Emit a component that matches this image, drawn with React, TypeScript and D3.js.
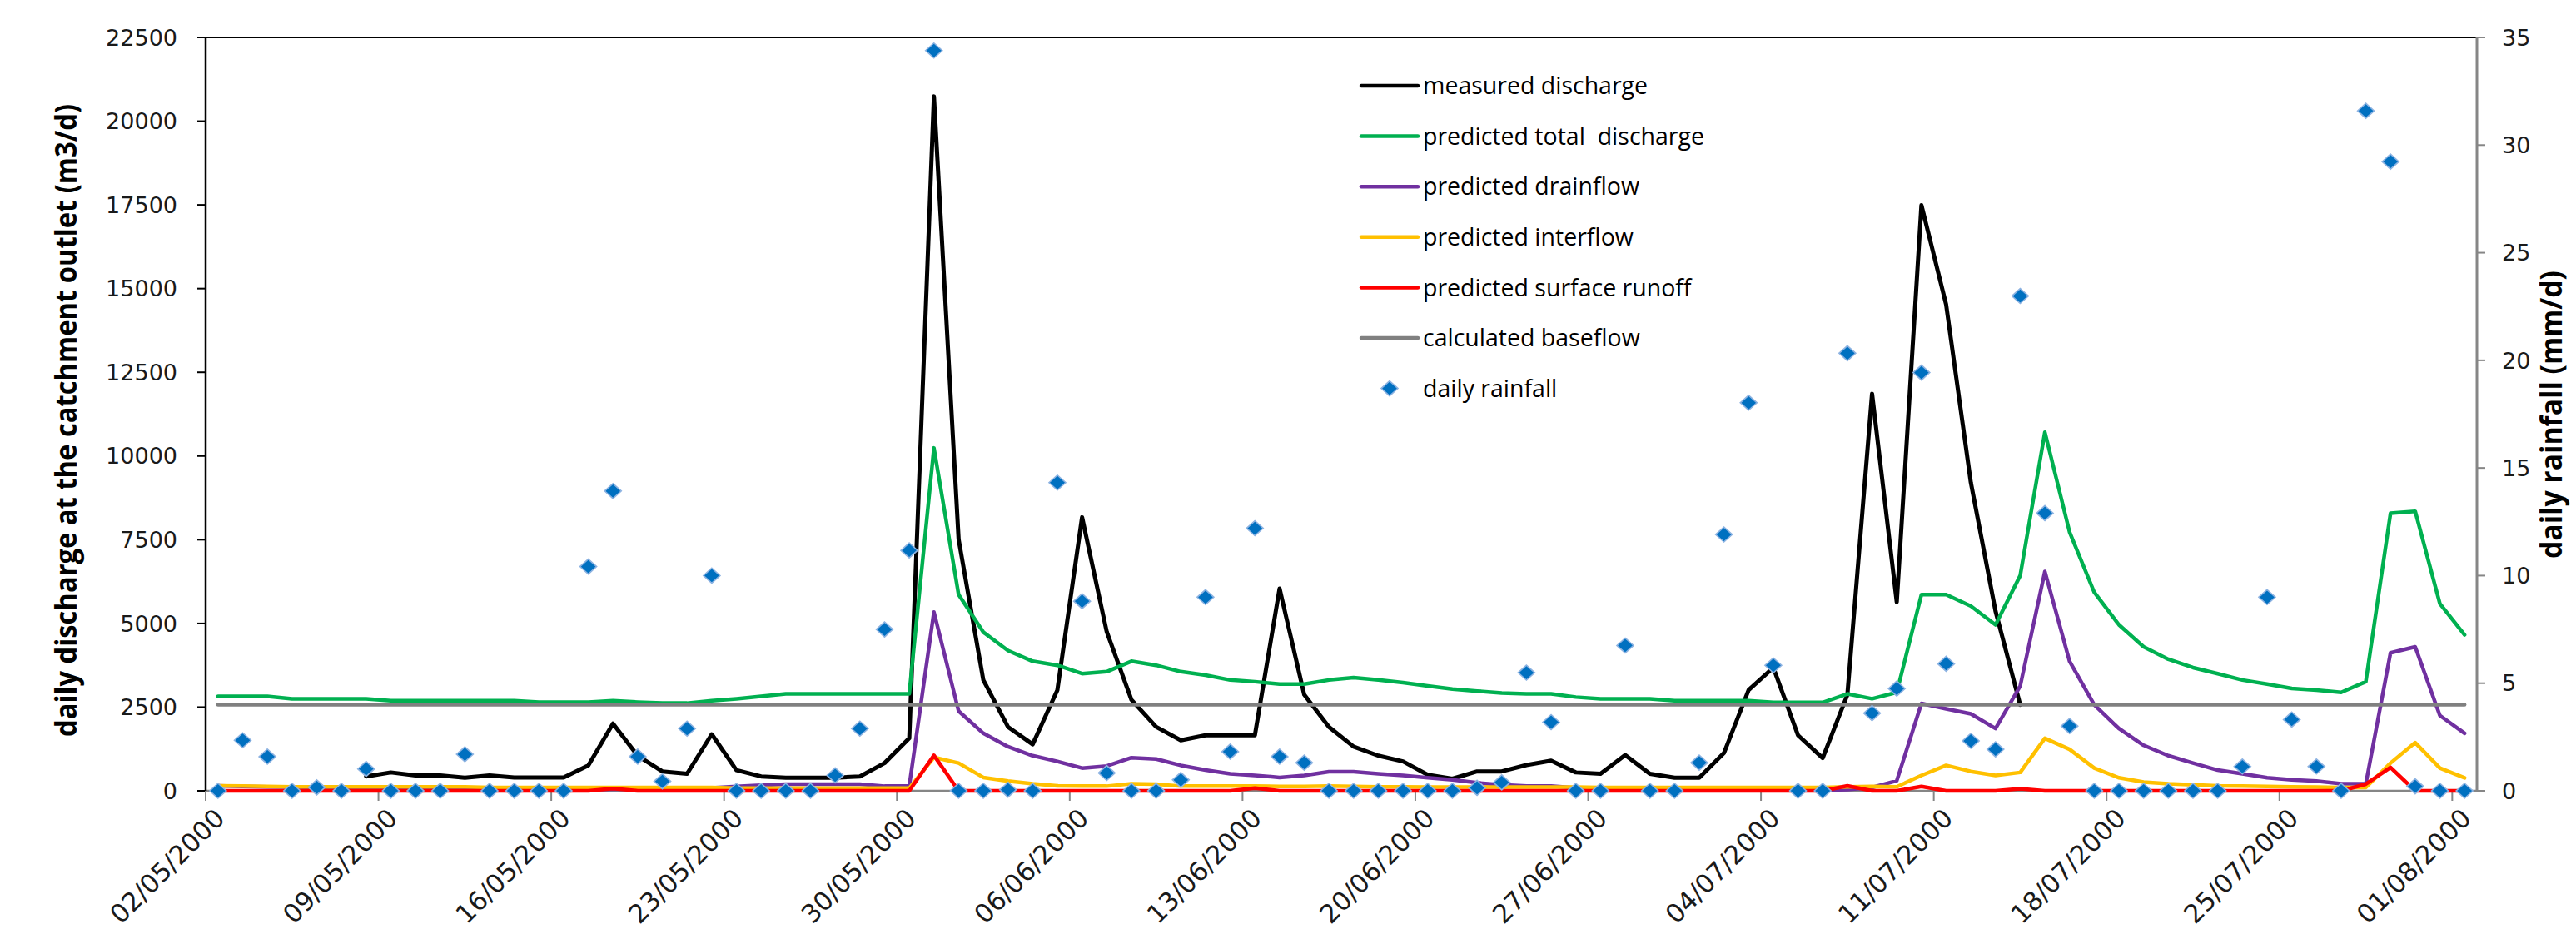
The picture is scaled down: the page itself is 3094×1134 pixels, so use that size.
import React from 'react';
import * as d3 from 'd3';

// categories: one per day, 02/05/2000 .. 01/08/2000
const startDay = new Date(2000, 4, 2);
const days = d3.timeDay.range(startDay, d3.timeDay.offset(startDay, 92));
const fmtDay = d3.timeFormat('%d/%m/%Y');

// daily discharge (m3/d), null = no measurement
const measured = [
  null, null, null, null, null, null, 430, 550, 460, 460, 390, 460, 400, 400, 400, 760, 2010, 1050, 580, 510,
  1690, 620, 430, 390, 390, 390, 430, 830, 1570, 20740, 7510, 3310, 1910, 1390, 3010, 8170, 4750, 2720, 1910, 1510,
  1660, 1660, 1660, 6040, 2870, 1910, 1320, 1050, 880, 480, 360, 580, 580, 770, 900, 550, 510, 1070, 510, 390,
  390, 1130, 3010, 3680, 1660, 980, 2870, 11860, 5640, 17490, 14520, 9210, 5370, 2570, null, null, null, null, null, null,
  null, null, null, null, null, null, null, null, null, null, null, null,
];

const totalPred = [
  2820, 2820, 2820, 2750, 2750, 2750, 2750, 2690, 2690, 2690, 2690, 2690, 2690, 2650, 2650, 2650, 2690, 2650, 2620, 2620,
  2690, 2750, 2820, 2895, 2895, 2895, 2895, 2895, 2895, 10240, 5860, 4740, 4190, 3870, 3750, 3500, 3560, 3870, 3750, 3560,
  3455, 3310, 3260, 3190, 3190, 3310, 3380, 3310, 3230, 3130, 3040, 2980, 2920, 2895, 2895, 2800, 2750, 2750, 2750, 2690,
  2690, 2690, 2690, 2640, 2640, 2640, 2895, 2750, 2940, 5860, 5860, 5520, 4960, 6430, 10710, 7730, 5930, 4960, 4300, 3930,
  3680, 3500, 3310, 3190, 3060, 3010, 2940, 3260, 8290, 8350, 5590, 4660,
];

const drainPred = [
  150, 130, 120, 110, 100, 90, 70, 60, 50, 50, 40, 40, 40, 40, 40, 40, 50, 50, 50, 60,
  90, 130, 170, 200, 200, 200, 200, 140, 140, 5340, 2380, 1720, 1320, 1050, 880, 680, 740, 990, 950, 760,
  620, 510, 460, 400, 460, 570, 570, 510, 460, 390, 330, 240, 180, 140, 140, 90, 70, 60, 50, 40,
  30, 30, 30, 20, 20, 20, 40, 100, 300, 2610, 2450, 2300, 1860, 3130, 6550, 3870, 2570, 1860, 1360, 1050,
  830, 620, 510, 390, 330, 290, 210, 210, 4120, 4300, 2250, 1720,
];

const interPred = [
  150, 140, 130, 120, 120, 120, 120, 120, 120, 120, 120, 100, 100, 100, 100, 100, 100, 100, 100, 100,
  100, 80, 80, 80, 80, 80, 80, 80, 80, 1000, 830, 400, 290, 210, 150, 140, 140, 210, 200, 140,
  140, 140, 140, 130, 130, 140, 130, 120, 120, 110, 110, 110, 110, 110, 110, 110, 100, 100, 100, 100,
  100, 100, 100, 100, 100, 100, 120, 130, 120, 460, 760, 580, 460, 550, 1570, 1240, 680, 390, 260, 210,
  180, 150, 140, 130, 120, 110, 100, 100, 830, 1440, 680, 390,
];

const surfacePred = [
  0, 0, 0, 0, 0, 0, 0, 0, 0, 0, 0, 0, 0, 0, 0, 0, 70, 0, 0, 0,
  0, 0, 0, 0, 0, 0, 0, 0, 0, 1060, 0, 0, 0, 0, 0, 0, 0, 0, 0, 0,
  0, 0, 80, 0, 0, 0, 0, 0, 0, 0, 0, 0, 0, 0, 0, 0, 0, 0, 0, 0,
  0, 0, 0, 0, 0, 0, 150, 0, 0, 130, 0, 0, 0, 60, 0, 0, 0, 0, 0, 0,
  0, 0, 0, 0, 0, 0, 0, 200, 700, 0, 0, 0,
];

const baseflow = 2575;

// daily rainfall (mm/d), secondary axis
const rainfall = [
  0, 2.35, 1.59, 0, 0.16, 0, 1.02, 0, 0, 0, 1.7, 0, 0, 0, 0, 10.42, 13.93, 1.59, 0.44, 2.89,
  10.0, 0, 0, 0, 0, 0.72, 2.89, 7.5, 11.17, 34.39, 0, 0, 0.05, 0, 14.32, 8.81, 0.83, 0, 0, 0.51,
  9.0, 1.82, 12.2, 1.59, 1.31, 0, 0, 0, 0, 0, 0, 0.14, 0.39, 5.49, 3.19, 0, 0, 6.75, 0, 0,
  1.31, 11.91, 18.03, 5.83, 0, 0, 20.33, 3.61, 4.75, 19.43, 5.9, 2.32, 1.93, 22.99, 12.9, 3.01, 0, 0, 0, 0,
  0, 0, 1.13, 9.0, 3.31, 1.13, 0, 31.59, 29.23, 0.21, 0, 0,
];

const leftTicks = d3.range(0, 22501, 2500);
const rightTicks = d3.range(0, 36, 5);

const legendItems = [
  { label: 'measured discharge', color: '#000000' },
  { label: 'predicted total\u00a0 discharge', color: '#00B050' },
  { label: 'predicted drainflow', color: '#7030A0' },
  { label: 'predicted interflow', color: '#FFC000' },
  { label: 'predicted surface runoff', color: '#FF0000' },
  { label: 'calculated baseflow', color: '#808080' },
];

const W = 3094;
const H = 1134;
const left = 247, right = 2975, top = 45, bottom = 950;

function Diamond({ x, y }: { x: number; y: number }) {
  return (
    <path
      d={`M${x},${y - 9}L${x + 10},${y}L${x},${y + 9}L${x - 10},${y}Z`}
      fill="#0070C0"
      stroke="#8DB3E2"
      strokeWidth={1.6}
    />
  );
}

export default function App() {
  const idx = d3.range(days.length);
  const x = d3.scaleBand<number>().domain(idx).range([left, right]).padding(0);
  const cx = (i: number) => (x(i) as number) + x.bandwidth() / 2;
  const yL = d3.scaleLinear().domain([0, 22500]).range([bottom, top]);
  const yR = d3.scaleLinear().domain([0, 35]).range([bottom, top]);

  const mkLine = (vals: (number | null)[]) =>
    d3.line<number | null>()
      .defined(d => d != null)
      .x((d, i) => cx(i))
      .y(d => yL(d as number))(vals) || '';

  const series = [
    { vals: measured, color: '#000000', w: 5 },
    { vals: totalPred, color: '#00B050', w: 4.5 },
    { vals: drainPred, color: '#7030A0', w: 4.5 },
    { vals: interPred, color: '#FFC000', w: 4.5 },
    { vals: surfacePred, color: '#FF0000', w: 4.5 },
    { vals: idx.map(() => baseflow), color: '#808080', w: 4.5 },
  ];

  const labelIdx = idx.filter(i => i % 7 === 0);
  const tickFont = '"DejaVu Sans", sans-serif';

  return (
    <svg width={W} height={H} style={{ position: 'absolute', left: 0, top: 0, display: 'block', background: '#fff' }}>
      {/* plot frame */}
      <line x1={left} x2={right} y1={top} y2={top} stroke="#000" strokeWidth={2} />
      <line x1={left} x2={right} y1={bottom} y2={bottom} stroke="#868686" strokeWidth={2.5} />
      <line x1={right} x2={right} y1={top} y2={bottom} stroke="#868686" strokeWidth={3} />
      <line x1={left} x2={left} y1={top} y2={bottom} stroke="#000" strokeWidth={2.5} />

      {/* left axis */}
      {leftTicks.map(t => (
        <g key={'l' + t}>
          <line x1={left - 10} x2={left} y1={yL(t)} y2={yL(t)} stroke="#000" strokeWidth={2} />
          <text x={213} y={yL(t)} dy="0.36em" textAnchor="end" fontFamily={tickFont} fontSize={27} fill="#1a1a1a">{t}</text>
        </g>
      ))}
      {/* right axis */}
      {rightTicks.map(t => (
        <g key={'r' + t}>
          <line x1={right} x2={right + 10} y1={yR(t)} y2={yR(t)} stroke="#868686" strokeWidth={2} />
          <text x={3005} y={yR(t)} dy="0.36em" textAnchor="start" fontFamily={tickFont} fontSize={27} fill="#1a1a1a">{t}</text>
        </g>
      ))}
      {/* x axis ticks and labels */}
      {labelIdx.map(i => (
        <line key={'xt' + i} x1={x(i) as number} x2={x(i) as number} y1={bottom} y2={bottom + 12} stroke="#868686" strokeWidth={2} />
      ))}
      {labelIdx.map(i => (
        <text key={'xl' + i} transform={`translate(${cx(i) + 2},${bottom + 27}) rotate(-45)`} dy="0.36em" textAnchor="end"
          fontFamily={tickFont} fontSize={31} fill="#1a1a1a">{fmtDay(days[i])}</text>
      ))}

      {/* axis titles */}
      <text transform={`translate(92,505) rotate(-90)`} textAnchor="middle" fontFamily='"Open Sans", sans-serif'
        fontWeight="bold" fontSize={36} textLength={760} lengthAdjust="spacingAndGlyphs">daily discharge at the catchment outlet (m3/d)</text>
      <text transform={`translate(3077,498) rotate(-90)`} textAnchor="middle" fontFamily='"Open Sans", sans-serif'
        fontWeight="bold" fontSize={35} textLength={346} lengthAdjust="spacingAndGlyphs">daily rainfall (mm/d)</text>

      {/* series */}
      {series.map((s, k) => (
        <path key={'s' + k} d={mkLine(s.vals)} fill="none" stroke={s.color} strokeWidth={s.w}
          strokeLinejoin="round" strokeLinecap="round" />
      ))}
      {rainfall.map((r, i) => <Diamond key={'d' + i} x={cx(i)} y={yR(r)} />)}

      {/* legend */}
      {legendItems.map((it, k) => (
        <g key={'lg' + k} transform={`translate(0,${103 + k * 60.6})`}>
          <line x1={1635} x2={1703} y1={0} y2={0} stroke={it.color} strokeWidth={4.5} strokeLinecap="round" />
          <text x={1709} y={0} dy="0.36em" fontFamily='"Open Sans", sans-serif' fontSize={28.5} fill="#000">{it.label}</text>
        </g>
      ))}
      <g transform={`translate(0,${103 + 6 * 60.6})`}>
        <Diamond x={1669} y={0} />
        <text x={1709} y={0} dy="0.36em" fontFamily='"Open Sans", sans-serif' fontSize={28.5} fill="#000">daily rainfall</text>
      </g>
    </svg>
  );
}
